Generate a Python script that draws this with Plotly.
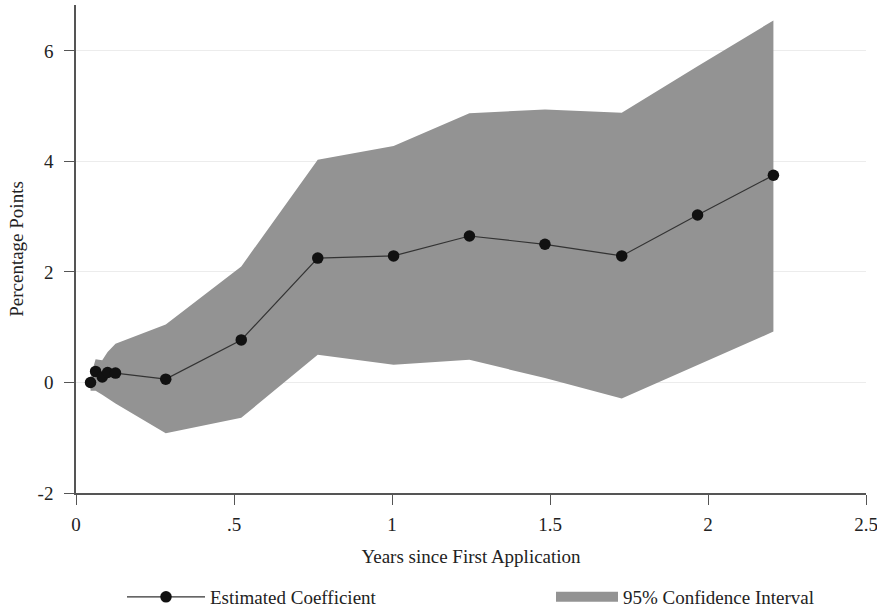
import plotly.graph_objects as go

# Data
x_years = [0.046, 0.062, 0.083, 0.100, 0.125, 0.284, 0.523, 0.765, 1.005, 1.245, 1.484, 1.727, 1.967, 2.207]
coef = [0.00, 0.20, 0.10, 0.18, 0.17, 0.06, 0.77, 2.25, 2.29, 2.65, 2.50, 2.29, 3.03, 3.75]
ci_upper = [0.10, 0.42, 0.40, 0.55, 0.70, 1.05, 2.10, 4.03, 4.28, 4.87, 4.94, 4.88, 5.72, 6.55]
ci_lower = [-0.15, -0.15, -0.22, -0.28, -0.38, -0.92, -0.64, 0.50, 0.32, 0.41, 0.08, -0.29, 0.32, 0.92]

x_ticks = [0, 0.5, 1, 1.5, 2, 2.5]
x_ticklabels = ["0", ".5", "1", "1.5", "2", "2.5"]
y_ticks = [-2, 0, 2, 4, 6]
y_ticklabels = ["-2", "0", "2", "4", "6"]

FONT = "Liberation Serif, Times New Roman, serif"
FS = 19
CI_COLOR = "#939393"

fig = go.Figure()

# confidence band (drawn from the data arrays)
fig.add_trace(go.Scatter(
    x=x_years + x_years[::-1],
    y=ci_upper + ci_lower[::-1],
    fill="toself",
    fillcolor=CI_COLOR,
    line=dict(width=0, color=CI_COLOR),
    mode="lines",
    name="95% Confidence Interval",
    showlegend=False,
    hoverinfo="skip",
))

# legend entry for the band (thicker swatch than the default fill swatch)
fig.add_trace(go.Scatter(
    x=[None], y=[None],
    mode="lines",
    line=dict(width=16, color=CI_COLOR),
    name="95% Confidence Interval",
    legend="legend2",
    hoverinfo="skip",
))

fig.add_trace(go.Scatter(
    x=x_years,
    y=coef,
    mode="lines+markers",
    line=dict(color="#333333", width=1.2),
    marker=dict(color="#111111", size=11.5),
    name="Estimated Coefficient",
    legend="legend",
))

legend_common = dict(
    orientation="h",
    font=dict(family=FONT, size=FS, color="#222222"),
    bgcolor="rgba(0,0,0,0)",
    xref="container", yref="container",
    yanchor="middle",
    y=1 - 597 / 609,
)

fig.update_layout(
    width=877, height=609,
    margin=dict(l=75.5, r=11, t=5, b=116, autoexpand=False),
    paper_bgcolor="white",
    plot_bgcolor="white",
    font=dict(family=FONT, size=FS, color="#222222"),
    showlegend=True,
    legend=dict(x=122 / 877, xanchor="left", itemwidth=78, **legend_common),
    legend2=dict(x=551 / 877, xanchor="left", itemwidth=62, **legend_common),
    xaxis=dict(
        range=[0, 2.5],
        tickmode="array", tickvals=x_ticks, ticktext=x_ticklabels,
        ticks="outside", ticklen=10, tickcolor="#555555", tickwidth=1.2,
        showline=True, linecolor="#555555", linewidth=1.5,
        showgrid=False, zeroline=False,
        automargin=False,
        ticklabeloverflow="allow",
        ticklabelstandoff=3,
        title=dict(text="Years since First Application", standoff=16,
                   font=dict(family=FONT, size=FS)),
        tickfont=dict(family=FONT, size=FS),
    ),
    yaxis=dict(
        range=[-2, 6.83],
        tickmode="array", tickvals=y_ticks, ticktext=y_ticklabels,
        ticks="outside", ticklen=10, tickcolor="#555555", tickwidth=1.2,
        showline=True, linecolor="#555555", linewidth=1.5,
        showgrid=True, gridcolor="#ececec", gridwidth=1,
        zeroline=False,
        automargin=False,
        ticklabelstandoff=7,
        title=dict(text="Percentage Points", standoff=9,
                   font=dict(family=FONT, size=FS)),
        tickfont=dict(family=FONT, size=FS),
    ),
)

fig.write_html("out.html", config={"displayModeBar": False},
               post_script="document.body.style.margin='0';")
